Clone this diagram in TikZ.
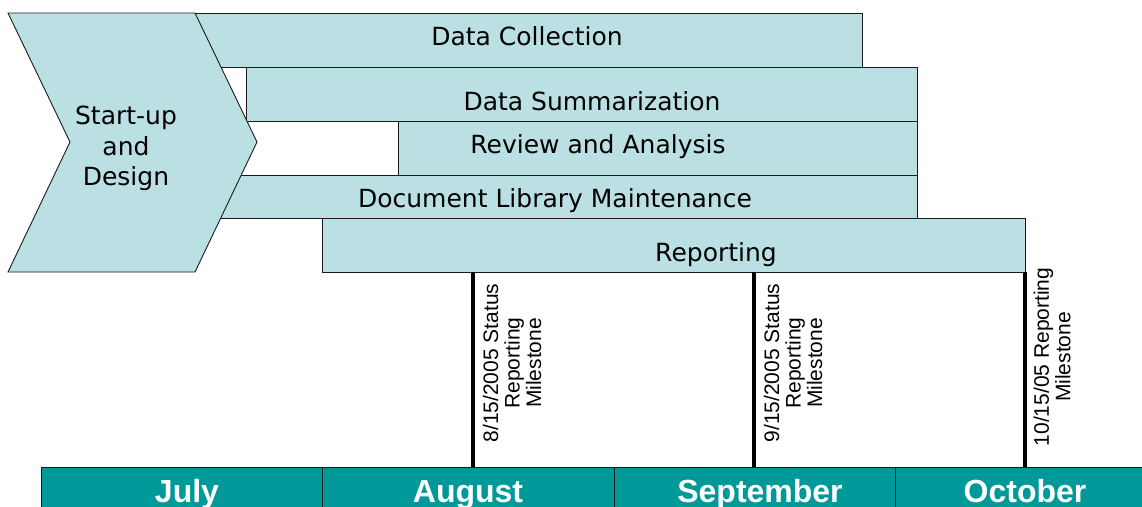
\documentclass[tikz,border=0pt]{standalone}
\usepackage{fontspec}
\setmainfont{DejaVu Sans}
\newfontfamily\arialfont{Liberation Sans}
\definecolor{barfill}{HTML}{BBE0E3}
\definecolor{monthfill}{HTML}{009999}
\definecolor{edge}{HTML}{1A1A1A}
\begin{document}
\begin{tikzpicture}[x=1pt,y=-1pt,
  phase/.style={draw=edge, line width=0.9pt, fill=barfill, rectangle, inner sep=0pt, anchor=north west},
  phaselabel/.style={anchor=base, inner sep=0pt, font=\fontsize{25}{30}\selectfont},
  monthcell/.style={draw=edge, line width=0.9pt, fill=monthfill, rectangle, inner sep=0pt, anchor=north west, minimum height=80pt},
  monthlabel/.style={anchor=base, inner sep=0pt, text=white, font=\arialfont\bfseries\fontsize{32}{36}\selectfont},
  milestone/.style={line width=3.3pt, black},
  milestonelabel/.style={rotate=90, align=center, inner sep=0pt, font=\arialfont\fontsize{21}{21.5}\selectfont}
]
\useasboundingbox (0,0) rectangle (1142,506);
\clip (0,0) rectangle (1142,506);

% activity bars (drawn first, the start-up chevron overlaps their left ends)
\node[phase, minimum width=669pt, minimum height=54pt] (dc) at (193,13) {};
\node[phase, minimum width=671pt, minimum height=54pt] (ds) at (246,67) {};
\node[phase, minimum width=519pt, minimum height=54pt] (ra) at (398,121) {};
\node[phase, minimum width=724pt, minimum height=43pt] (dl) at (193,175) {};
\node[phase, minimum width=703pt, minimum height=54pt] (rep) at (322,218) {};

\node[phaselabel] (dcl) at (527,45) {Data Collection};
\node[phaselabel] (dsl) at (592,110) {Data Summarization};
\node[phaselabel] (ral) at (598,153) {Review and Analysis};
\node[phaselabel] (dll) at (555,207) {Document Library Maintenance};
\node[phaselabel] (repl) at (716,261) {Reporting};

% start-up chevron
\draw[draw=edge, line width=0.9pt, fill=barfill]
  (8,13) -- (195,13) -- (257,142) -- (195,272) -- (8,272) -- (70,142) -- cycle;
\node[align=center, inner sep=0pt, font=\fontsize{25}{30.5}\selectfont] (start) at (126,148.5) {Start-up\\and\\Design};

% month scale, running on past the lower and right edges
\node[monthcell, minimum width=281pt] (jul) at (41,467) {};
\node[monthcell, minimum width=292pt] (aug) at (322,467) {};
\node[monthcell, minimum width=281pt] (sep) at (614,467) {};
\node[monthcell, minimum width=270pt] (oct) at (895,467) {};
\node[monthlabel] (julL) at (187,502) {July};
\node[monthlabel] (augL) at (468,502) {August};
\node[monthlabel] (sepL) at (760,502) {September};
\node[monthlabel] (octL) at (1025,502) {October};

% reporting milestones
\coordinate (m1a) at (473,272); \coordinate (m1b) at (473,467);
\coordinate (m2a) at (754,272); \coordinate (m2b) at (754,467);
\coordinate (m3a) at (1025,272); \coordinate (m3b) at (1025,467);
\draw[milestone] (m1a) -- (m1b);
\draw[milestone] (m2a) -- (m2b);
\draw[milestone] (m3a) -- (m3b);
\node[milestonelabel] (m1l) at (512,363) {8/15/2005 Status\\Reporting\\Milestone};
\node[milestonelabel] (m2l) at (793,363) {9/15/2005 Status\\Reporting\\Milestone};
\node[milestonelabel] (m3l) at (1052,357) {10/15/05 Reporting\\Milestone};
\end{tikzpicture}
\end{document}
